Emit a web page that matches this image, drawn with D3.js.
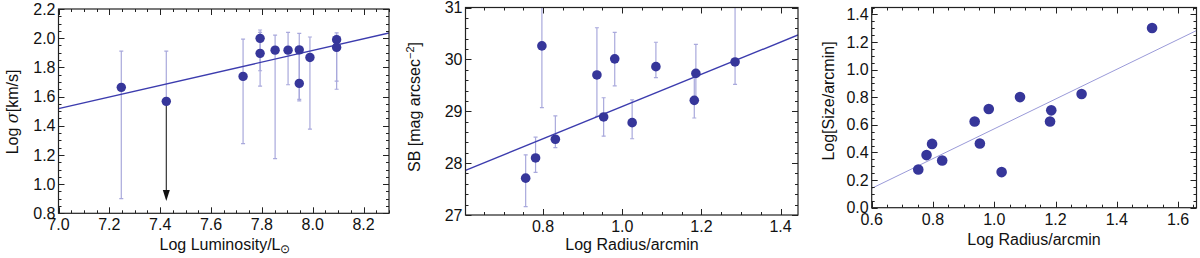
<!DOCTYPE html>
<html>
<head>
<meta charset="utf-8">
<script src="https://cdn.jsdelivr.net/npm/d3@7"></script>
<style>
  body { margin: 0; background: #fff; }
  svg { display: block; font-family: "Liberation Sans", Arial, sans-serif; }
</style>
</head>
<body>
<div id="chart"></div>
<script>
// panel 1: velocity dispersion vs luminosity
var lum      = [7.247, 7.424, 7.726, 7.793, 7.793, 7.852, 7.903, 7.947, 7.947, 7.989, 8.094, 8.094];
var logSigma = [1.663, 1.567, 1.738, 1.999, 1.896, 1.918, 1.918, 1.920, 1.690, 1.868, 1.990, 1.937];
var sigLo    = [0.900, null,  1.277, 1.777, 1.672, 1.174, 1.681, 1.581, 1.571, 1.377, 1.706, 1.650];
var sigHi    = [1.912, 1.912, 1.994, 2.056, 2.040, 2.021, 2.040, 2.033, 1.920, 2.008, 2.037, 2.020];
var upperLimitTip = 0.884;   // arrow for the upper-limit point
var fit1 = [[7.0, 1.517], [8.3, 2.036]];

// panel 2: surface brightness vs radius
var logRad = [0.756, 0.781, 0.797, 0.831, 0.936, 0.953, 0.981, 1.025, 1.085, 1.182, 1.186, 1.285];
var sb     = [27.71, 28.10, 30.26, 28.46, 29.70, 28.89, 30.01, 28.78, 29.86, 29.21, 29.73, 29.95];
var sbLo   = [27.16, 27.82, 29.07, 28.30, 28.90, 28.52, 29.49, 28.47, 29.65, 28.87, 29.20, 29.52];
var sbHi   = [28.16, 28.50, 31.10, 28.91, 30.61, 29.26, 30.52, 29.22, 30.33, 29.70, 30.29, 31.20];
var fit2 = [[0.604, 27.86], [1.444, 30.47]];

// panel 3: size vs radius
var logRad3 = [0.752, 0.779, 0.797, 0.830, 0.936, 0.953, 0.982, 1.024, 1.084, 1.182, 1.186, 1.285, 1.515];
var logSize = [0.277, 0.381, 0.462, 0.342, 0.624, 0.465, 0.715, 0.258, 0.801, 0.624, 0.705, 0.823, 1.302];
var fit3 = [[0.6, 0.14], [1.66, 1.283]];

var W = 1200, H = 258;
var dotColor = "#36369a", errColor = "#a9a9dc", lineColor = "#3c3cae";

var svg = d3.select("#chart").append("svg").attr("width", W).attr("height", H);

function panel(o) {
  var x = d3.scaleLinear().domain(o.xd).range([o.left, o.right]);
  var y = d3.scaleLinear().domain(o.yd).range([o.bottom, o.top]);
  var g = svg.append("g");

  var clipId = "clip" + o.id;
  svg.append("clipPath").attr("id", clipId).append("rect")
    .attr("x", o.left).attr("y", o.top)
    .attr("width", o.right - o.left).attr("height", o.bottom - o.top);
  var plot = g.append("g").attr("clip-path", "url(#" + clipId + ")");

  // ticks (inward, all four sides)
  var eps = 1e-9;
  function ticksOf(d, step) {
    var out = [];
    for (var v = Math.ceil(d[0] / step - eps) * step; v <= d[1] + eps; v += step) out.push(+v.toFixed(6));
    return out;
  }
  var tg = g.append("g").attr("stroke", "#222").attr("stroke-width", 1);
  ticksOf(o.xd, o.xMinor).forEach(function (v) {
    var major = Math.abs(v / o.xMajor - Math.round(v / o.xMajor)) < 1e-6;
    var len = major ? 6 : 3, px = Math.round(x(v)) + 0.5;
    tg.append("line").attr("x1", px).attr("x2", px).attr("y1", o.bottom).attr("y2", o.bottom - len);
    tg.append("line").attr("x1", px).attr("x2", px).attr("y1", o.top).attr("y2", o.top + len);
  });
  ticksOf(o.yd, o.yMinor).forEach(function (v) {
    var major = Math.abs(v / o.yMajor - Math.round(v / o.yMajor)) < 1e-6;
    var len = major ? 6 : 3, py = Math.round(y(v)) + 0.5;
    tg.append("line").attr("y1", py).attr("y2", py).attr("x1", o.left).attr("x2", o.left + len);
    tg.append("line").attr("y1", py).attr("y2", py).attr("x1", o.right).attr("x2", o.right - len);
  });

  // tick labels
  ticksOf(o.xd, o.xMajor).forEach(function (v) {
    g.append("text").attr("x", x(v)).attr("y", o.bottom + 17)
      .attr("text-anchor", "middle").attr("font-size", 16).attr("fill", "#111")
      .text(d3.format(o.xFmt)(v));
  });
  ticksOf(o.yd, o.yMajor).forEach(function (v) {
    g.append("text").attr("x", o.left - 3).attr("y", y(v)).attr("dy", "0.35em")
      .attr("text-anchor", "end").attr("font-size", 16).attr("fill", "#111")
      .text(d3.format(o.yFmt)(v));
  });

  // frame
  g.append("rect").attr("x", o.left).attr("y", o.top)
    .attr("width", o.right - o.left).attr("height", o.bottom - o.top)
    .attr("fill", "none").attr("stroke", "#222").attr("stroke-width", 1.2);

  return { x: x, y: y, g: g, plot: plot };
}

function errorBars(p, xs, lo, hi) {
  xs.forEach(function (xv, i) {
    if (lo[i] == null) return;
    var px = p.x(xv), y1 = p.y(lo[i]), y2 = p.y(hi[i]);
    p.plot.append("line").attr("x1", px).attr("x2", px).attr("y1", y1).attr("y2", y2)
      .attr("stroke", errColor).attr("stroke-width", 1.2);
    [y1, y2].forEach(function (yy) {
      p.plot.append("line").attr("x1", px - 2).attr("x2", px + 2).attr("y1", yy).attr("y2", yy)
        .attr("stroke", errColor).attr("stroke-width", 1.2);
    });
  });
}

function fitLine(p, pts, color, w) {
  p.plot.append("path")
    .attr("d", d3.line().x(function (d) { return p.x(d[0]); }).y(function (d) { return p.y(d[1]); })(pts))
    .attr("fill", "none").attr("stroke", color).attr("stroke-width", w);
}

function dots(p, xs, ys, r) {
  p.plot.selectAll(null).data(xs).enter().append("circle")
    .attr("cx", function (d) { return p.x(d); })
    .attr("cy", function (d, i) { return p.y(ys[i]); })
    .attr("r", r).attr("fill", dotColor);
}

// ---- panel 1 ----
var p1 = panel({ id: 1, xd: [7.0, 8.3], yd: [0.8, 2.2], left: 58.5, right: 389, top: 9, bottom: 213.3,
  xMajor: 0.2, xMinor: 0.05, yMajor: 0.2, yMinor: 0.05, xFmt: ".1f", yFmt: ".1f" });
errorBars(p1, lum, sigLo.map(function (d, i) { return d == null ? null : d; }), sigHi);
// upper error of the limit point, then the arrow down
(function () {
  var i = sigLo.indexOf(null), px = p1.x(lum[i]);
  p1.plot.append("line").attr("x1", px).attr("x2", px).attr("y1", p1.y(logSigma[i])).attr("y2", p1.y(sigHi[i]))
    .attr("stroke", errColor).attr("stroke-width", 1.2);
  p1.plot.append("line").attr("x1", px - 2).attr("x2", px + 2).attr("y1", p1.y(sigHi[i])).attr("y2", p1.y(sigHi[i]))
    .attr("stroke", errColor).attr("stroke-width", 1.2);
  var tip = p1.y(upperLimitTip);
  p1.plot.append("line").attr("x1", px).attr("x2", px).attr("y1", p1.y(logSigma[i])).attr("y2", tip - 8)
    .attr("stroke", "#222").attr("stroke-width", 1.1);
  p1.plot.append("path").attr("d", "M" + (px - 3.5) + "," + (tip - 11) + "L" + (px + 3.5) + "," + (tip - 11) + "L" + px + "," + tip + "Z")
    .attr("fill", "#111");
})();
fitLine(p1, fit1, lineColor, 1.4);
dots(p1, lum, logSigma, 4.7);

p1.g.append("text").attr("x", 225).attr("y", 250).attr("text-anchor", "middle").attr("font-size", 16)
  .attr("fill", "#111")
  .call(function (t) {
    t.append("tspan").text("Log Luminosity/L");
    t.append("tspan").attr("font-size", 12).attr("dy", 3).text("\u2299");
  });
p1.g.append("text").attr("transform", "translate(18,112) rotate(-90)").attr("text-anchor", "middle")
  .attr("font-size", 16).attr("fill", "#111")
  .call(function (t) {
    t.append("tspan").text("Log ");
    t.append("tspan").attr("font-style", "italic").attr("font-family", "'DejaVu Serif', serif").text("\u03c3");
    t.append("tspan").text("[km/s]");
  });

// ---- panel 2 ----
var p2 = panel({ id: 2, xd: [0.604, 1.444], yd: [27, 31], left: 465.5, right: 798, top: 7.5, bottom: 215,
  xMajor: 0.2, xMinor: 0.05, yMajor: 1, yMinor: 0.2, xFmt: ".1f", yFmt: "d" });
errorBars(p2, logRad, sbLo, sbHi);
fitLine(p2, fit2, lineColor, 1.4);
dots(p2, logRad, sb, 4.8);
p2.g.append("text").attr("x", 632).attr("y", 250).attr("text-anchor", "middle").attr("font-size", 16)
  .attr("fill", "#111").text("Log Radius/arcmin");
p2.g.append("text").attr("transform", "translate(420,107) rotate(-90)").attr("text-anchor", "middle")
  .attr("font-size", 16).attr("fill", "#111")
  .call(function (t) {
    t.append("tspan").text("SB [mag arcsec");
    t.append("tspan").attr("font-size", 11).attr("dy", -6).text("\u22122");
    t.append("tspan").attr("dy", 6).text("]");
  });

// ---- panel 3 ----
var p3 = panel({ id: 3, xd: [0.6, 1.66], yd: [0, 1.45], left: 871.7, right: 1196.5, top: 7.5, bottom: 207.7,
  xMajor: 0.2, xMinor: 0.05, yMajor: 0.2, yMinor: 0.05, xFmt: ".1f", yFmt: ".1f" });
fitLine(p3, fit3, "#9a9ad8", 1);
dots(p3, logRad3, logSize, 5.3);
p3.g.append("text").attr("x", 1034).attr("y", 245).attr("text-anchor", "middle").attr("font-size", 16)
  .attr("fill", "#111").text("Log Radius/arcmin");
p3.g.append("text").attr("transform", "translate(834,101) rotate(-90)").attr("text-anchor", "middle")
  .attr("font-size", 16).attr("fill", "#111").text("Log[Size/arcmin]");
</script>
</body>
</html>
